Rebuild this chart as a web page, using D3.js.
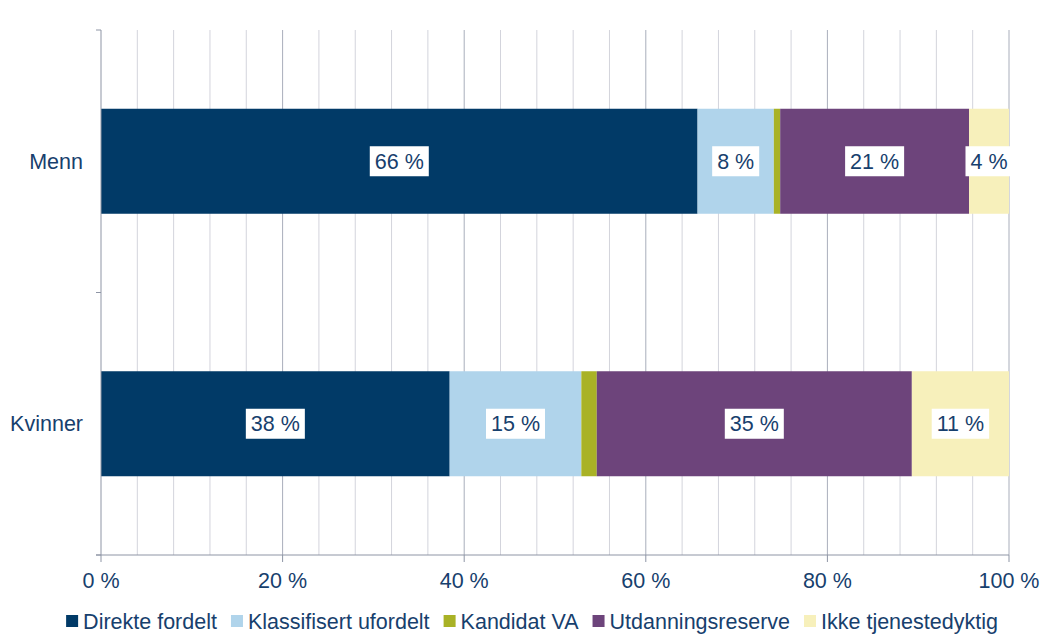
<!DOCTYPE html>
<html>
<head>
<meta charset="utf-8">
<script src="https://cdn.jsdelivr.net/npm/d3@7"></script>
<style>
  body { margin:0; background:#fff; }
  svg { display:block; }
  text { font-family: "Liberation Sans", Arial, sans-serif; }
</style>
</head>
<body>
<div id="container"></div>
<script>
/* DATA */
const categories = ["Menn", "Kvinner"];
const seriesNames = ["Direkte fordelt", "Klassifisert ufordelt", "Kandidat VA", "Utdanningsreserve", "Ikke tjenestedyktig"];
const seriesColors = ["#013A67", "#B0D4EB", "#A9B226", "#6D447B", "#F7F0BB"];
// values in percent, per series: [Menn, Kvinner]
const direkteFordelt = [65.7, 38.4];
const klassifisertUfordelt = [8.4, 14.5];
const kandidatVA = [0.7, 1.7];
const utdanningsreserve = [20.8, 34.7];
const ikkeTjenestedyktig = [4.4, 10.7];
const xTicks = [0, 20, 40, 60, 80, 100];

/* CONSTANTS */
const width = 1051, height = 637,
      margin = {top:30, left:101, right:42, bottom:82},
      innerWidth = width - margin.left - margin.right,
      innerHeight = height - margin.top - margin.bottom;
const textColor = "#17406D";
const fontSize = "21.5px";

const values = [direkteFordelt, klassifisertUfordelt, kandidatVA, utdanningsreserve, ikkeTjenestedyktig];
const table = categories.map((c, i) => {
  const row = {category: c};
  seriesNames.forEach((s, j) => row[s] = values[j][i]);
  return row;
});
const stacked = d3.stack().keys(seriesNames)(table);

/* SCALES */
const xScale = d3.scaleLinear().domain([0, 100]).range([0, innerWidth]);
const yScale = d3.scaleBand().domain(categories).range([0, innerHeight])
                 .paddingInner(0.6).paddingOuter(0.3);
const colorScale = d3.scaleOrdinal().domain(seriesNames).range(seriesColors);

const svg = d3.select("#container").append("svg")
              .attr("width", width).attr("height", height);
const g = svg.append("g").attr("transform", `translate(${margin.left},${margin.top})`);

// gridlines every 4 %
g.selectAll("line.grid")
  .data(d3.range(4, 101, 4))
  .join("line")
    .attr("class", "grid")
    .attr("x1", d => xScale(d)).attr("x2", d => xScale(d))
    .attr("y1", 0).attr("y2", innerHeight)
    .attr("stroke", d => d % 20 === 0 ? "#A9AEBB" : "#D3D4DC")
    .attr("stroke-width", 1);

/* BARS */
const layer = g.selectAll("g.layer")
  .data(stacked)
  .join("g")
    .attr("class", "layer")
    .attr("fill", d => colorScale(d.key));

layer.selectAll("rect")
  .data(d => d)
  .join("rect")
    .attr("x", d => xScale(d[0]))
    .attr("y", d => yScale(d.data.category))
    .attr("width", d => xScale(d[1]) - xScale(d[0]))
    .attr("height", yScale.bandwidth());

/* LABELS */
const labelData = [];
stacked.forEach(s => s.forEach(d => {
  if (d[1] - d[0] >= 2) labelData.push({x: (d[0] + d[1]) / 2, cat: d.data.category, v: d[1] - d[0]});
}));

const lab = g.selectAll("g.bar-label")
  .data(labelData)
  .join("g")
    .attr("class", "bar-label")
    .attr("transform", d => `translate(${xScale(d.x)},${yScale(d.cat) + yScale.bandwidth()/2})`);
lab.append("rect").attr("fill", "#fff");
lab.append("text")
    .attr("text-anchor", "middle")
    .attr("dy", "0.35em")
    .attr("font-size", fontSize)
    .attr("fill", textColor)
    .text(d => Math.round(d.v) + " %");
lab.each(function() {
  const w = d3.select(this).select("text").node().getComputedTextLength();
  d3.select(this).select("rect")
    .attr("x", -w/2 - 5).attr("y", -15)
    .attr("width", w + 10).attr("height", 30);
});

/* AXES */
const xAxis = g.append("g").attr("transform", `translate(0,${innerHeight})`);
xAxis.append("line").attr("x1", -5).attr("x2", innerWidth).attr("stroke", "#8E95A5");
xAxis.selectAll("line.tick")
  .data(xTicks)
  .join("line")
    .attr("class", "tick")
    .attr("x1", d => xScale(d)).attr("x2", d => xScale(d))
    .attr("y1", 0).attr("y2", 7)
    .attr("stroke", "#8E95A5");
xAxis.selectAll("text")
  .data(xTicks)
  .join("text")
    .attr("x", d => xScale(d))
    .attr("y", 33)
    .attr("text-anchor", "middle")
    .attr("font-size", fontSize)
    .attr("fill", textColor)
    .text(d => d + " %");

const yAxis = g.append("g");
yAxis.append("line").attr("y1", 0).attr("y2", innerHeight).attr("stroke", "#8E95A5");
yAxis.selectAll("line.tick")
  .data([0, innerHeight / 2, innerHeight])
  .join("line")
    .attr("class", "tick")
    .attr("x1", -5).attr("x2", 0)
    .attr("y1", d => d).attr("y2", d => d)
    .attr("stroke", "#8E95A5");
yAxis.selectAll("text")
  .data(categories)
  .join("text")
    .attr("x", -18)
    .attr("y", d => yScale(d) + yScale.bandwidth()/2)
    .attr("dy", "0.35em")
    .attr("text-anchor", "end")
    .attr("font-size", fontSize)
    .attr("fill", textColor)
    .text(d => d);

/* LEGEND */
const legend = svg.append("g").attr("transform", `translate(0,621)`);
const items = legend.selectAll("g")
  .data(seriesNames)
  .join("g");
items.append("rect")
  .attr("y", -6).attr("width", 12).attr("height", 12)
  .attr("fill", d => colorScale(d));
items.append("text")
  .attr("x", 17).attr("dy", "0.35em")
  .attr("font-size", fontSize)
  .attr("fill", textColor)
  .text(d => d);
let offset = 0;
const pos = [];
items.each(function() {
  const w = d3.select(this).select("text").node().getComputedTextLength();
  pos.push(offset);
  offset += 17 + w + 14;
});
const total = offset - 14;
const start = 532 - total / 2;
items.attr("transform", (d, i) => `translate(${start + pos[i]},0)`);
</script>
</body>
</html>
